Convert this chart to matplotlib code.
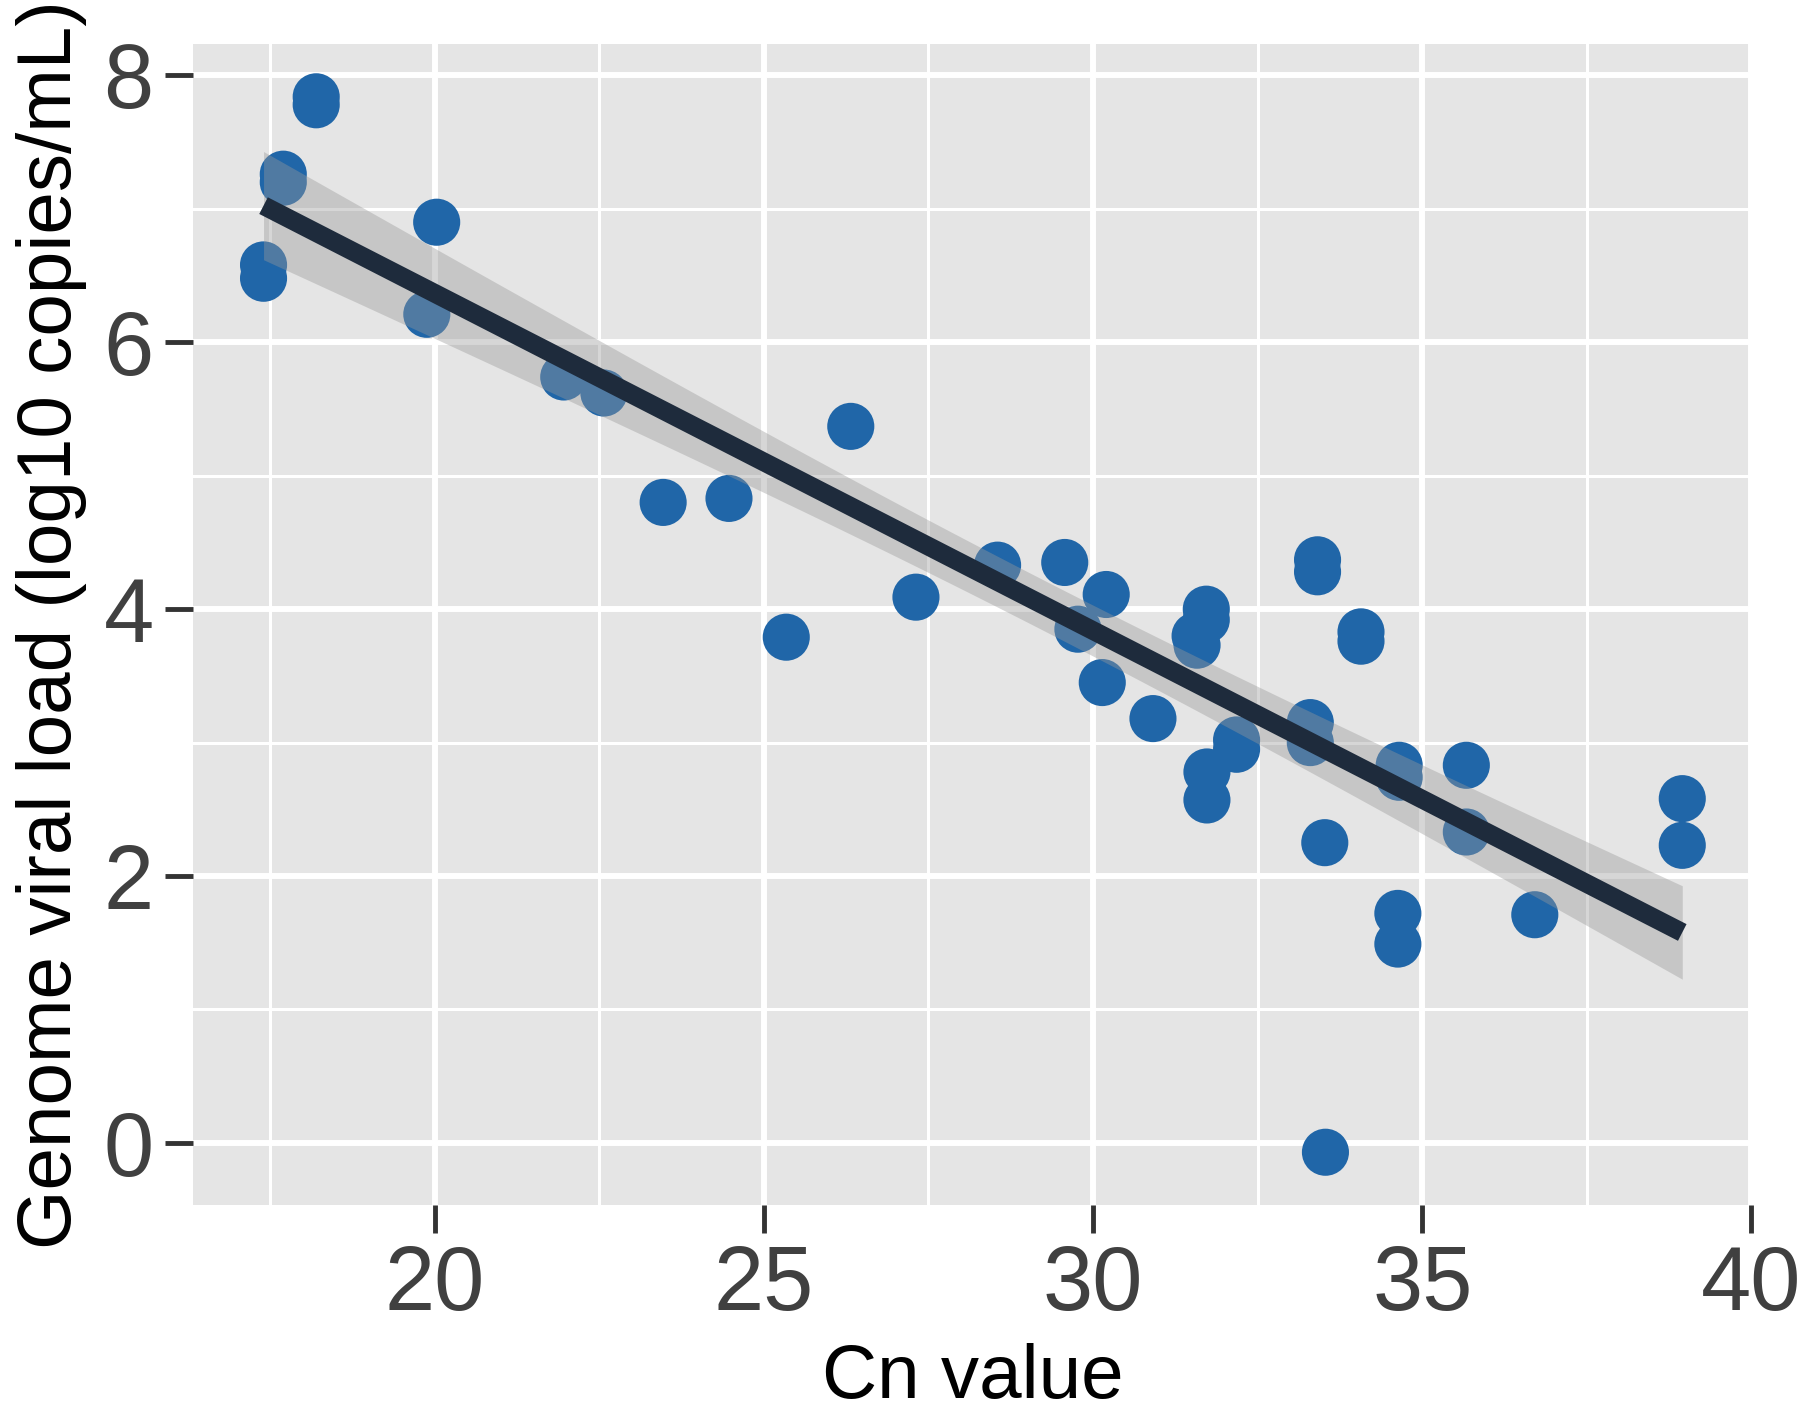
import numpy as np
import matplotlib
matplotlib.use("Agg")
import matplotlib.pyplot as plt

# Data
cn_value = [17.40, 17.40, 17.70, 17.70, 18.20, 18.20, 19.88, 20.03, 21.96, 22.57,
            23.47, 24.47, 25.34, 26.32, 27.31, 28.55, 29.57, 29.77, 30.14, 30.20,
            30.91, 31.55, 31.58, 31.72, 31.72, 31.73, 31.73, 32.18, 32.18, 33.30,
            33.30, 33.41, 33.41, 33.52, 33.53, 34.07, 34.07, 34.65, 34.65, 34.63,
            34.63, 35.67, 35.67, 36.71, 38.95, 38.95]
viral_load = [6.58, 6.48, 7.26, 7.20, 7.84, 7.78, 6.21, 6.90, 5.74, 5.62,
              4.80, 4.83, 3.79, 5.37, 4.09, 4.33, 4.35, 3.85, 3.45, 4.11,
              3.18, 3.80, 3.73, 4.00, 3.92, 2.78, 2.57, 3.02, 2.95, 3.15,
              3.00, 4.37, 4.28, 2.25, -0.07, 3.83, 3.76, 2.83, 2.74, 1.72,
              1.49, 2.83, 2.33, 1.71, 2.58, 2.23]
x_ticks = [20, 25, 30, 35, 40]
y_ticks = [0, 2, 4, 6, 8]
x_label = "Cn value"
y_label = "Genome viral load (log10 copies/mL)"

plt.rcParams['font.family'] = ['Liberation Sans', 'DejaVu Sans']

x = np.array(cn_value)
y = np.array(viral_load)

# Linear fit with confidence band (like geom_smooth(method='lm'))
n = len(x)
b1, b0 = np.polyfit(x, y, 1)
xs = np.linspace(x.min(), x.max(), 200)
ys = b0 + b1 * xs
resid = y - (b0 + b1 * x)
s = np.sqrt(np.sum(resid ** 2) / (n - 2))
sxx = np.sum((x - x.mean()) ** 2)
tval = 1.62  # band multiplier
se = s * np.sqrt(1.0 / n + (xs - x.mean()) ** 2 / sxx)

fig = plt.figure(figsize=(18, 14.2), dpi=100)
ax = fig.add_axes([0.107, 0.1514, 0.867, 0.8176])
ax.set_facecolor('#E5E5E5')

ax.scatter(x, y, s=1150, color='#2066A8', edgecolors='none', zorder=3)
ax.fill_between(xs, ys - tval * se, ys + tval * se, color='#999999', alpha=0.4,
                linewidth=0, zorder=4)
ax.plot(xs, ys, color='#1E2B3C', linewidth=13.5, zorder=5, solid_capstyle='butt')

xr = x.max() - x.min()
yr = y.max() - y.min()
ax.set_xlim(x.min() - 0.05 * xr, x.max() + 0.05 * xr)
ax.set_ylim(y.min() - 0.05 * yr, y.max() + 0.05 * yr)

ax.set_xticks(x_ticks)
ax.set_yticks(y_ticks)
ax.set_xticks([17.5, 22.5, 27.5, 32.5, 37.5], minor=True)
ax.set_yticks([1, 3, 5, 7], minor=True)
ax.grid(which='major', color='white', linewidth=4.3, zorder=0)
ax.grid(which='minor', color='white', linewidth=2.2, zorder=0)
ax.set_axisbelow(True)
for sp in ax.spines.values():
    sp.set_visible(False)

ax.tick_params(axis='both', which='major', length=20, width=3.5, color='#333333',
               labelsize=65, labelcolor='#404040', pad=8)
ax.tick_params(axis='both', which='minor', length=0)

ax.set_xlabel(x_label, fontsize=55, color='black', labelpad=10)
ax.set_ylabel(y_label, fontsize=55, color='black', labelpad=12)

fig.savefig('out.png', dpi=100)
